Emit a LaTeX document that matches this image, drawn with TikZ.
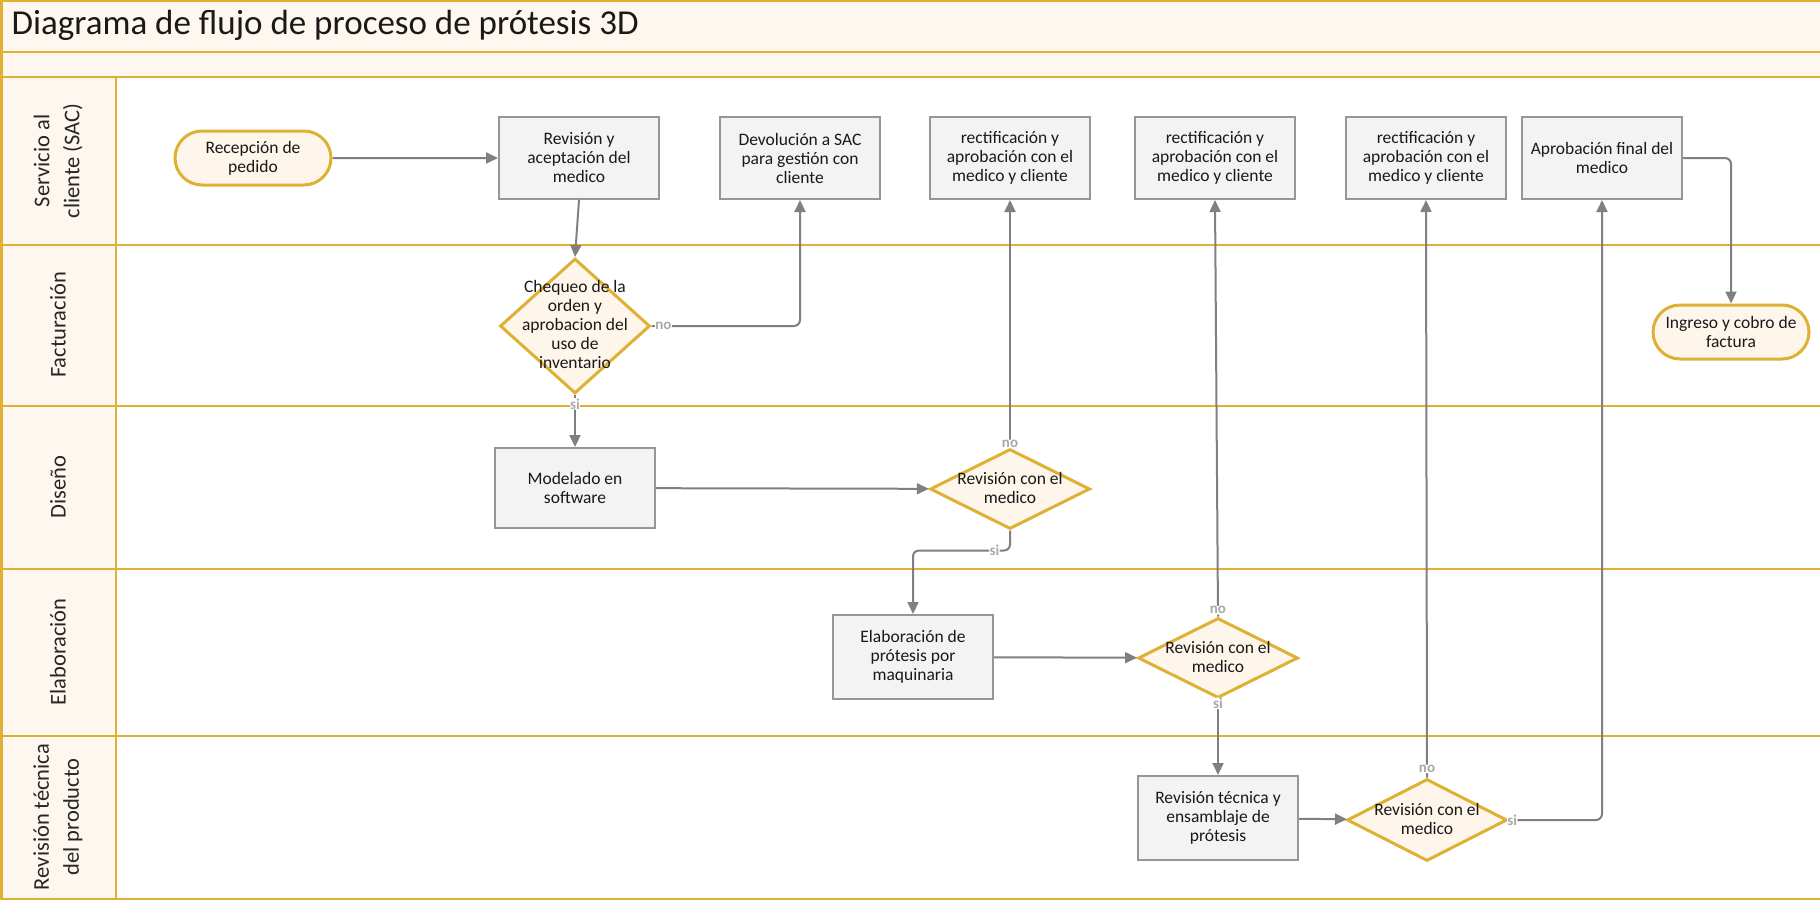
\documentclass[tikz,border=0pt]{standalone}
\usepackage{fontspec}
\setmainfont{Carlito}
\usetikzlibrary{arrows.meta,shapes.geometric,shapes.misc}

\definecolor{oro}{RGB}{222,176,52}
\definecolor{crema}{RGB}{254,247,239}
\definecolor{rombofill}{RGB}{254,245,235}
\definecolor{cajafill}{RGB}{243,243,243}
\definecolor{cajaborde}{RGB}{150,150,150}
\definecolor{flecha}{RGB}{128,128,128}
\definecolor{etiq}{RGB}{168,168,168}

\def\rombo#1{\smash{\raisebox{-0.3em}{\makebox[0pt]{\begin{tabular}{@{}c@{}}#1\end{tabular}}}}}

\begin{document}
\begin{tikzpicture}[x=1pt,y=-1pt,>={Triangle[length=12pt,width=11pt]},
	texto/.style={font=\fontsize{17.5}{19}\selectfont,text=black!90},
	caja/.style={texto,draw=cajaborde,fill=cajafill,line width=2pt,minimum width=160,minimum height=82,align=center,inner sep=2pt},
	inicio/.style={texto,rounded rectangle,draw=oro,fill=rombofill,line width=3pt,minimum width=160,minimum height=54,align=center,inner sep=2pt},
	decision/.style={texto,diamond,draw=oro,fill=rombofill,line width=3pt,inner sep=0pt,minimum width=160,minimum height=80},
	carril/.style={draw=oro,line width=2.2pt},
	carriltxt/.style={rotate=90,align=center,font=\fontsize{22.5}{30}\selectfont,text=black!85},
	con/.style={->,draw=flecha,line width=2pt,rounded corners=6pt},
	lbl/.style={font=\fontsize{15}{15}\selectfont\bfseries,text=etiq,fill=white,inner sep=0.5pt}]
\useasboundingbox (0,0) rectangle (1820,902);

% fondo y carriles
\fill[crema] (0,0) rectangle (1820,77);
\fill[crema] (0,77) rectangle (116,900);
\foreach \y in {1,52,77,245,406,569,736,899}{
	\draw[carril] (1,\y) -- (1820,\y);
}
\draw[carril] (1.5,0) -- (1.5,900);
\draw[carril] (116,77) -- (116,900);

\node[anchor=west,font=\fontsize{35}{40}\selectfont,text=black!90] (titulo) at (8,25) {Diagrama de flujo de proceso de prótesis 3D};

\node[carriltxt] (sac) at (58,161) {Servicio al\\cliente (SAC)};
\node[carriltxt] (fact) at (58,325) {Facturación};
\node[carriltxt] (dis) at (58,487) {Diseño};
\node[carriltxt] (elabo) at (58,652) {Elaboración};
\node[carriltxt] (tec) at (58,817) {Revisión técnica\\del producto};

% Servicio al cliente
\node[inicio] (pedido) at (253,158) {Recepción de\\pedido};
\node[caja] (revision) at (579,158) {Revisión y\\aceptación del\\medico};
\node[caja] (devolucion) at (800,158) {Devolución a SAC\\para gestión con\\cliente};
\node[caja] (rect1) at (1010,158) {rectificación y\\aprobación con el\\medico y cliente};
\node[caja] (rect2) at (1215,158) {rectificación y\\aprobación con el\\medico y cliente};
\node[caja] (rect3) at (1426,158) {rectificación y\\aprobación con el\\medico y cliente};
\node[caja] (final) at (1602,158) {Aprobación final del\\medico};

% Facturacion
\node[decision,minimum width=150,minimum height=135] (chequeo) at (575,326) {\rombo{Chequeo de la\\orden y\\aprobacion del\\uso de\\inventario}};
\node[inicio] (ingreso) at (1731,332) {Ingreso y cobro de\\factura};

% Diseno
\node[caja,minimum height=80] (modelado) at (575,488) {Modelado en\\software};
\node[decision] (revdis) at (1010,489) {\rombo{Revisión con el\\medico}};

% Elaboracion
\node[caja,minimum height=84] (elab) at (913,657) {Elaboración de\\prótesis por\\maquinaria};
\node[decision] (revelab) at (1218,658) {\rombo{Revisión con el\\medico}};

% Revision tecnica
\node[caja,minimum height=84] (revtec) at (1218,818) {Revisión técnica y\\ensamblaje de\\prótesis};
\node[decision,minimum height=82] (revfin) at (1427,820) {\rombo{Revisión con el\\medico}};

% conectores
\draw[con] (pedido) -- (revision);
\draw[con] (revision.south) -- (chequeo.north);
\draw[con] (chequeo.east) -| node[lbl,pos=0.04] {no} (devolucion.south);
\draw[con] (chequeo.south) -- node[lbl,pos=0.17] {si} (modelado.north);
\draw[con] (modelado) -- (revdis);
\draw[con] (revdis.north) -- node[lbl,pos=0.015] {no} (rect1.south);
\draw[con] (revdis.south) -- ++(0,20) -| node[lbl,pos=0.08] {si} (elab.north);
\draw[con] (elab) -- (revelab);
\draw[con] (revelab.north) -- node[lbl,pos=0.015] {no} (rect2.south);
\draw[con] (revelab.south) -- node[lbl,pos=0.05] {si} (revtec.north);
\draw[con] (revtec) -- (revfin);
\draw[con] (revfin.north) -- node[lbl,pos=0.015] {no} (rect3.south);
\draw[con] (revfin.east) -| node[lbl,pos=0.02] {si} (final.south);
\draw[con] (final.east) -| (ingreso.north);
\end{tikzpicture}
\end{document}
